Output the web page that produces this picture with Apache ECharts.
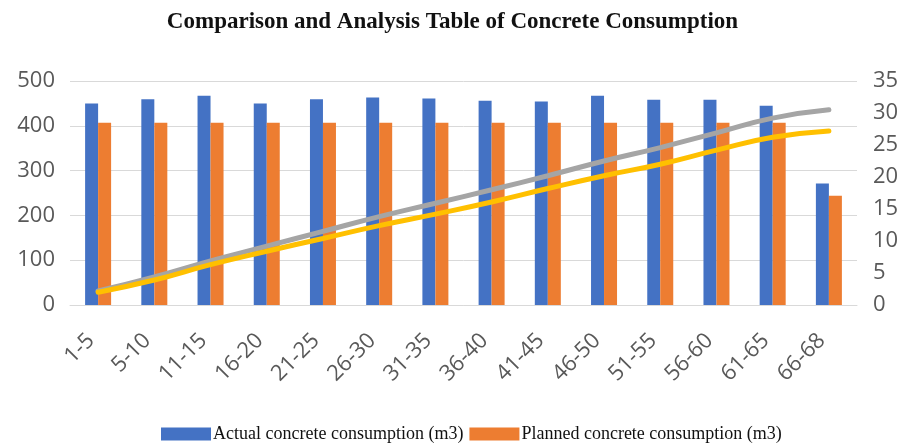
<!DOCTYPE html>
<html>
<head>
<meta charset="utf-8">
<script src="https://cdn.jsdelivr.net/npm/echarts@6/dist/echarts.min.js"></script>
<style>
  html, body { margin: 0; padding: 0; background: #ffffff; }
  #chart { width: 905px; height: 448px; }
</style>
</head>
<body>
<div id="chart"></div>
<script>
// Floor ranges of the building
const categories = ['1-5', '5-10', '11-15', '16-20', '21-25', '26-30', '31-35',
  '36-40', '41-45', '46-50', '51-55', '56-60', '61-65', '66-68'];

// Concrete per range (m3), left axis
const actualConsumption = [450, 459, 467, 450, 459, 463, 461, 456, 454, 467, 458, 458, 445, 271];
const plannedConsumption = [407, 407, 407, 407, 407, 407, 407, 407, 407, 407, 407, 407, 407, 244];

// Running totals, right axis
const actualTrend = [2.2, 4.4, 6.9, 9.2, 11.5, 13.8, 15.9, 18.0, 20.2, 22.5, 24.6, 26.9, 29.2, 30.5];
const plannedTrend = [2.0, 3.9, 6.3, 8.4, 10.4, 12.4, 14.2, 16.1, 18.2, 20.2, 22.0, 24.2, 26.2, 27.2];

const chart = echarts.init(document.getElementById('chart'));

const axisText = { color: '#595959', fontFamily: 'Open Sans', fontSize: 22 };

chart.setOption({
  animation: false,
  title: {
    text: 'Comparison and Analysis Table of Concrete Consumption',
    left: 'center',
    top: 6,
    textStyle: {
      fontFamily: 'Liberation Serif',
      fontWeight: 'bold',
      fontSize: 23,
      color: '#111111'
    }
  },
  legend: {
    bottom: 0,
    left: 156,
    itemWidth: 50,
    itemHeight: 13,
    itemGap: 6,
    icon: 'rect',
    data: ['Actual concrete consumption (m3)', 'Planned concrete consumption (m3)'],
    textStyle: {
      fontFamily: 'Liberation Serif',
      fontSize: 18,
      color: '#111111',
      padding: [0, 0, 0, -3]
    }
  },
  grid: { left: 70, right: 48, top: 81, bottom: 143 },
  xAxis: {
    type: 'category',
    data: categories,
    axisLine: { lineStyle: { color: '#d9d9d9', width: 1 } },
    axisTick: { show: false },
    axisLabel: Object.assign({ rotate: 45, interval: 0, margin: 25, padding: [0, 10, 0, 0] }, axisText)
  },
  yAxis: [
    {
      type: 'value',
      min: 0,
      max: 500,
      interval: 100,
      axisLine: { show: false },
      axisTick: { show: false },
      splitLine: { lineStyle: { color: '#d9d9d9', width: 1 } },
      axisLabel: Object.assign({ margin: 15 }, axisText)
    },
    {
      type: 'value',
      min: 0,
      max: 35,
      interval: 5,
      axisLine: { show: false },
      axisTick: { show: false },
      splitLine: { show: false },
      axisLabel: Object.assign({ margin: 16 }, axisText)
    }
  ],
  series: [
    {
      name: 'Actual concrete consumption (m3)',
      type: 'bar',
      data: actualConsumption,
      barWidth: 13,
      barGap: '0%',
      itemStyle: { color: '#4472C4' }
    },
    {
      name: 'Planned concrete consumption (m3)',
      type: 'bar',
      data: plannedConsumption,
      barWidth: 13,
      barGap: '0%',
      itemStyle: { color: '#ED7D31' }
    },
    {
      name: 'Actual cumulative',
      type: 'line',
      yAxisIndex: 1,
      data: actualTrend,
      smooth: true,
      symbol: 'none',
      lineStyle: { color: '#A5A5A5', width: 5, cap: 'round' }
    },
    {
      name: 'Planned cumulative',
      type: 'line',
      yAxisIndex: 1,
      data: plannedTrend,
      smooth: true,
      symbol: 'none',
      lineStyle: { color: '#FFC000', width: 5, cap: 'round' }
    }
  ]
});
</script>
</body>
</html>
